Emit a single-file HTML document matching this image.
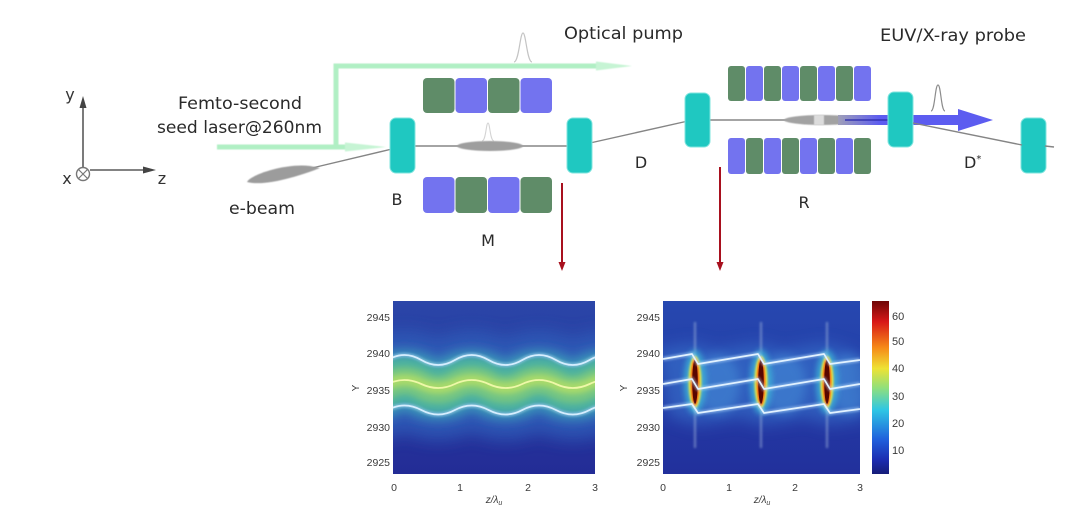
<!DOCTYPE html>
<html><head><meta charset="utf-8"><style>
html,body{margin:0;padding:0;background:#fff;}
svg{display:block;}
</style></head><body>
<svg width="1080" height="520" viewBox="0 0 1080 520" xmlns="http://www.w3.org/2000/svg" font-family="'DejaVu Sans','Liberation Sans',sans-serif">
<defs>
<filter id="b05" filterUnits="userSpaceOnUse" x="0" y="0" width="1080" height="520"><feGaussianBlur stdDeviation="0.6"/></filter>
<filter id="b1" filterUnits="userSpaceOnUse" x="0" y="0" width="1080" height="520"><feGaussianBlur stdDeviation="1.1"/></filter>
<filter id="b2" filterUnits="userSpaceOnUse" x="0" y="0" width="1080" height="520"><feGaussianBlur stdDeviation="2"/></filter>
<filter id="b3" filterUnits="userSpaceOnUse" x="0" y="0" width="1080" height="520"><feGaussianBlur stdDeviation="3"/></filter>
<filter id="b5" filterUnits="userSpaceOnUse" x="0" y="0" width="1080" height="520"><feGaussianBlur stdDeviation="5"/></filter>
<filter id="b8" filterUnits="userSpaceOnUse" x="0" y="0" width="1080" height="520"><feGaussianBlur stdDeviation="8"/></filter>
<clipPath id="cl"><rect x="393" y="301" width="202" height="173"/></clipPath>
<clipPath id="cr"><rect x="663" y="301" width="197" height="173"/></clipPath>
<linearGradient id="bgL" x1="0" y1="0" x2="0" y2="1">
<stop offset="0" stop-color="#2b46a8"/><stop offset="1" stop-color="#232c96"/></linearGradient>
<linearGradient id="bgR" x1="0" y1="0" x2="0" y2="1">
<stop offset="0" stop-color="#2648b0"/><stop offset="1" stop-color="#22309c"/></linearGradient>
<linearGradient id="jet" x1="0" y1="0" x2="0" y2="1">
<stop offset="0" stop-color="#6e0606"/>
<stop offset="0.12" stop-color="#d81818"/>
<stop offset="0.27" stop-color="#f68a18"/>
<stop offset="0.39" stop-color="#eee234"/>
<stop offset="0.5" stop-color="#92e07a"/>
<stop offset="0.63" stop-color="#2ec6e4"/>
<stop offset="0.8" stop-color="#2060dc"/>
<stop offset="0.92" stop-color="#1c2cb0"/>
<stop offset="1" stop-color="#161c78"/>
</linearGradient>
<linearGradient id="shaft" gradientUnits="userSpaceOnUse" x1="835" y1="0" x2="880" y2="0">
<stop offset="0" stop-color="#a4a4b4"/><stop offset="1" stop-color="#5c5cf0"/></linearGradient>
</defs>

<rect width="1080" height="520" fill="#fff"/>

<!-- coordinate axes -->
<g stroke="#5a5a5a" stroke-width="1.6" fill="none">
<line x1="83" y1="168" x2="83" y2="104"/>
<line x1="90" y1="170" x2="146" y2="170"/>
</g>
<polygon points="79.5,108 83,96 86.5,108" fill="#444"/>
<polygon points="143,166.5 156,170 143,173.5" fill="#444"/>
<circle cx="83" cy="174" r="6.5" fill="#fff" stroke="#777" stroke-width="1.4"/>
<path d="M78.5,169.5 L87.5,178.5 M87.5,169.5 L78.5,178.5" stroke="#777" stroke-width="1.2"/>
<text x="70" y="100" font-size="16" fill="#333" text-anchor="middle">y</text>
<text x="67" y="184" font-size="16" fill="#333" text-anchor="middle">x</text>
<text x="162" y="184" font-size="16" fill="#333" text-anchor="middle">z</text>

<!-- labels top -->
<g fill="#2a2a2a" font-size="17">
<text x="178" y="109" textLength="124" lengthAdjust="spacingAndGlyphs">Femto-second</text>
<text x="157" y="133" textLength="165" lengthAdjust="spacingAndGlyphs">seed laser@260nm</text>
<text x="564" y="39" textLength="119" lengthAdjust="spacingAndGlyphs">Optical pump</text>
<text x="880" y="41" textLength="146" lengthAdjust="spacingAndGlyphs">EUV/X-ray probe</text>
<text x="229" y="214" textLength="66" lengthAdjust="spacingAndGlyphs">e-beam</text>
</g>
<g fill="#2a2a2a" font-size="16" text-anchor="middle">
<text x="397" y="205">B</text>
<text x="488" y="246">M</text>
<text x="641" y="168">D</text>
<text x="804" y="208">R</text>
</g>
<text x="964" y="168" font-size="16" fill="#2a2a2a">D<tspan font-size="10" dy="-6">*</tspan></text>

<!-- green optical beam -->
<g filter="url(#b05)">
<path d="M217,147 H350 M336,147 V66 H602" stroke="#b0efc4" stroke-width="5" fill="none"/>
<polygon points="345,142.5 386,147 345,151.5" fill="#c6f4d4"/>
<polygon points="596,61.5 632,66 596,70.5" fill="#c6f4d4"/>
</g>

<!-- pulses -->
<path d="M514,62 C519,62 520,33 523,33 C526,33 527,62 532,62" stroke="#c4c4c4" stroke-width="1.2" fill="none"/>
<path d="M482,141 C486,141 486,123 488,123 C490,123 490,141 494,141" stroke="#d4d4d4" stroke-width="1.1" fill="none"/>
<path d="M931,111 C935,111 935,85 938,85 C941,85 941,111 945,111" stroke="#8c8c8c" stroke-width="1.2" fill="none"/>

<!-- beam lines -->
<g stroke="#858585" stroke-width="1.4" fill="none">
<line x1="312" y1="168" x2="392" y2="149"/>
<line x1="410" y1="146" x2="570" y2="146"/>
<line x1="590" y1="143" x2="688" y2="121"/>
<line x1="708" y1="120" x2="890" y2="120"/>
</g>

<!-- e-beams -->
<path d="M247,182 C250,175 285,163 310,166 L320,168 C302,175 266,187 247,182 Z" fill="#9c9c9c" filter="url(#b05)"/>
<ellipse cx="490" cy="146" rx="33" ry="5" fill="#9e9e9e" filter="url(#b05)"/>
<ellipse cx="822" cy="120" rx="38" ry="5" fill="#a2a2a2" filter="url(#b05)"/>
<rect x="814" y="115" width="10" height="10" fill="#dcdcdc" filter="url(#b05)"/>

<!-- blue probe arrow -->
<rect x="838" y="115" width="124" height="10" fill="url(#shaft)"/>
<line x1="845" y1="120" x2="905" y2="120" stroke="#3030b0" stroke-width="2" opacity="0.7"/>
<polygon points="958,109 993,120 958,131" fill="#5c5cf0"/>

<!-- magnets M -->
<g>
<rect x="423" y="78" width="31.5" height="35" rx="4" fill="#5f8c68"/>
<rect x="455.5" y="78" width="31.5" height="35" rx="4" fill="#7373ef"/>
<rect x="488" y="78" width="31.5" height="35" rx="4" fill="#5f8c68"/>
<rect x="520.5" y="78" width="31.5" height="35" rx="4" fill="#7373ef"/>
<rect x="423" y="177" width="31.5" height="36" rx="4" fill="#7373ef"/>
<rect x="455.5" y="177" width="31.5" height="36" rx="4" fill="#5f8c68"/>
<rect x="488" y="177" width="31.5" height="36" rx="4" fill="#7373ef"/>
<rect x="520.5" y="177" width="31.5" height="36" rx="4" fill="#5f8c68"/>
</g>
<!-- magnets R -->
<g>
<rect x="728" y="66" width="17" height="35" rx="3" fill="#5f8c68"/>
<rect x="746" y="66" width="17" height="35" rx="3" fill="#7373ef"/>
<rect x="764" y="66" width="17" height="35" rx="3" fill="#5f8c68"/>
<rect x="782" y="66" width="17" height="35" rx="3" fill="#7373ef"/>
<rect x="800" y="66" width="17" height="35" rx="3" fill="#5f8c68"/>
<rect x="818" y="66" width="17" height="35" rx="3" fill="#7373ef"/>
<rect x="836" y="66" width="17" height="35" rx="3" fill="#5f8c68"/>
<rect x="854" y="66" width="17" height="35" rx="3" fill="#7373ef"/>
<rect x="728" y="138" width="17" height="36" rx="3" fill="#7373ef"/>
<rect x="746" y="138" width="17" height="36" rx="3" fill="#5f8c68"/>
<rect x="764" y="138" width="17" height="36" rx="3" fill="#7373ef"/>
<rect x="782" y="138" width="17" height="36" rx="3" fill="#5f8c68"/>
<rect x="800" y="138" width="17" height="36" rx="3" fill="#7373ef"/>
<rect x="818" y="138" width="17" height="36" rx="3" fill="#5f8c68"/>
<rect x="836" y="138" width="17" height="36" rx="3" fill="#7373ef"/>
<rect x="854" y="138" width="17" height="36" rx="3" fill="#5f8c68"/>
</g>

<!-- chicane blocks -->
<g fill="#1fc8c1" stroke="#7fe4de" stroke-width="1">
<rect x="390" y="118" width="25" height="55" rx="6"/>
<rect x="567" y="118" width="25" height="55" rx="6"/>
<rect x="685" y="93" width="25" height="54" rx="6"/>
<rect x="888" y="92" width="25" height="55" rx="6"/>
<rect x="1021" y="118" width="25" height="55" rx="6"/>
</g>
<g stroke="#858585" stroke-width="1.4" fill="none">
<line x1="913" y1="123" x2="1022" y2="145"/>
<line x1="1045" y1="146" x2="1054" y2="147"/>
</g>

<!-- red arrows -->
<g stroke="#a8101e" stroke-width="2">
<line x1="562" y1="183" x2="562" y2="263"/>
<line x1="720" y1="167" x2="720" y2="263"/>
</g>
<polygon points="558.5,262 565.5,262 562,271" fill="#a8101e"/>
<polygon points="716.5,262 723.5,262 720,271" fill="#a8101e"/>

<!-- LEFT HEATMAP -->
<g clip-path="url(#cl)">
<rect x="393" y="301" width="202" height="173" fill="url(#bgL)"/>
<g fill="none">
<path d="M353.9,385 Q370.8,394 387.6,385 T421.3,385 T454.9,385 T488.6,385 T522.3,385 T555.9,385 T589.6,385 T623.3,385 T657,385" stroke="#2e5cb8" stroke-width="100" filter="url(#b8)" opacity="0.85"/>
<path d="M353.9,385 Q370.8,394 387.6,385 T421.3,385 T454.9,385 T488.6,385 T522.3,385 T555.9,385 T589.6,385 T623.3,385 T657,385" stroke="#3a90ba" stroke-width="62" filter="url(#b5)"/>
<path d="M353.9,385 Q370.8,394 387.6,385 T421.3,385 T454.9,385 T488.6,385 T522.3,385 T555.9,385 T589.6,385 T623.3,385 T657,385" stroke="#4bb0a0" stroke-width="46" filter="url(#b3)"/>
<path d="M353.9,385 Q370.8,394 387.6,385 T421.3,385 T454.9,385 T488.6,385 T522.3,385 T555.9,385 T589.6,385 T623.3,385 T657,385" stroke="#72c484" stroke-width="28" filter="url(#b3)"/>
<path d="M353.9,384 Q370.8,392 387.6,384 T421.3,384 T454.9,384 T488.6,384 T522.3,384 T555.9,384 T589.6,384 T623.3,384 T657,384" stroke="#a8da6a" stroke-width="12" filter="url(#b3)"/>
<path d="M353.9,360 Q370.8,370 387.6,360 T421.3,360 T454.9,360 T488.6,360 T522.3,360 T555.9,360 T589.6,360 T623.3,360 T657,360" stroke="#b8dcff" stroke-width="4.5" opacity="0.45" filter="url(#b1)"/>
<path d="M353.9,410 Q370.8,419 387.6,410 T421.3,410 T454.9,410 T488.6,410 T522.3,410 T555.9,410 T589.6,410 T623.3,410 T657,410" stroke="#b8dcff" stroke-width="4.5" opacity="0.45" filter="url(#b1)"/>
<path d="M353.9,360 Q370.8,370 387.6,360 T421.3,360 T454.9,360 T488.6,360 T522.3,360 T555.9,360 T589.6,360 T623.3,360 T657,360" stroke="#d6eeff" stroke-width="1.8"/>
<path d="M353.9,384 Q370.8,392 387.6,384 T421.3,384 T454.9,384 T488.6,384 T522.3,384 T555.9,384 T589.6,384 T623.3,384 T657,384" stroke="#eef8a8" stroke-width="1.8"/>
<path d="M353.9,410 Q370.8,419 387.6,410 T421.3,410 T454.9,410 T488.6,410 T522.3,410 T555.9,410 T589.6,410 T623.3,410 T657,410" stroke="#d6eeff" stroke-width="1.8"/>
</g>
</g>

<!-- RIGHT HEATMAP -->
<g clip-path="url(#cr)">
<rect x="663" y="301" width="197" height="173" fill="url(#bgR)"/>
<g fill="none" stroke-linejoin="round">
<path d="M663,384 L692,379 L698,389 L758,379 L764,389 L824,379 L830,389 L860,384" stroke="#3a7ad2" stroke-width="70" opacity="0.55" filter="url(#b8)"/>
</g>
<g>
<ellipse cx="718" cy="384" rx="22" ry="30" fill="#4a96dc" opacity="0.45" filter="url(#b5)"/>
<ellipse cx="784" cy="384" rx="22" ry="30" fill="#4a96dc" opacity="0.45" filter="url(#b5)"/>
<ellipse cx="850" cy="384" rx="22" ry="30" fill="#4a96dc" opacity="0.45" filter="url(#b5)"/>
</g>
<!-- spikes -->
<g>
<line x1="695" y1="322" x2="695" y2="448" stroke="#a8bce0" stroke-width="2.2" opacity="0.5" filter="url(#b1)"/>
<line x1="761" y1="322" x2="761" y2="448" stroke="#a8bce0" stroke-width="2.2" opacity="0.5" filter="url(#b1)"/>
<line x1="827" y1="322" x2="827" y2="448" stroke="#a8bce0" stroke-width="2.2" opacity="0.5" filter="url(#b1)"/>
<ellipse cx="695" cy="382" rx="11" ry="32" fill="#3cb8d8" opacity="0.8" filter="url(#b3)"/>
<ellipse cx="761" cy="382" rx="11" ry="32" fill="#3cb8d8" opacity="0.8" filter="url(#b3)"/>
<ellipse cx="827" cy="382" rx="11" ry="32" fill="#3cb8d8" opacity="0.8" filter="url(#b3)"/>
<ellipse cx="695" cy="382" rx="6.5" ry="26" fill="#ece23e" filter="url(#b1)"/>
<ellipse cx="761" cy="382" rx="6.5" ry="26" fill="#ece23e" filter="url(#b1)"/>
<ellipse cx="827" cy="382" rx="6.5" ry="26" fill="#ece23e" filter="url(#b1)"/>
<ellipse cx="695" cy="382" rx="4.5" ry="24" fill="#f07818" filter="url(#b05)"/>
<ellipse cx="761" cy="382" rx="4.5" ry="24" fill="#f07818" filter="url(#b05)"/>
<ellipse cx="827" cy="382" rx="4.5" ry="24" fill="#f07818" filter="url(#b05)"/>
<ellipse cx="695" cy="382" rx="2.8" ry="22" fill="#580600"/>
<ellipse cx="761" cy="382" rx="2.8" ry="22" fill="#580600"/>
<ellipse cx="827" cy="382" rx="2.8" ry="22" fill="#580600"/>
</g>
<g fill="none" stroke-linejoin="round">
<g stroke="#c0e0ff" stroke-width="4.5" opacity="0.45" filter="url(#b1)">
<path d="M663,359 L692,354 L698,364 L758,354 L764,364 L824,354 L830,364 L860,360"/>
<path d="M663,384 L692,379 L698,389 L758,379 L764,389 L824,379 L830,389 L860,384"/>
<path d="M663,408 L692,404 L698,413 L758,404 L764,413 L824,404 L830,413 L860,409"/>
</g>
<g stroke="#e2f2ff" stroke-width="1.7">
<path d="M663,359 L692,354 L698,364 L758,354 L764,364 L824,354 L830,364 L860,360"/>
<path d="M663,384 L692,379 L698,389 L758,379 L764,389 L824,379 L830,389 L860,384"/>
<path d="M663,408 L692,404 L698,413 L758,404 L764,413 L824,404 L830,413 L860,409"/>
</g>
</g>
</g>

<!-- colorbar -->
<rect x="872" y="301" width="17" height="173" fill="url(#jet)"/>

<!-- axes text -->
<g font-family="'Liberation Sans',sans-serif" font-size="10.5" fill="#3a3a3a">
<g text-anchor="end">
<text x="390" y="321">2945</text>
<text x="390" y="357">2940</text>
<text x="390" y="394">2935</text>
<text x="390" y="431">2930</text>
<text x="390" y="466">2925</text>
<text x="660" y="321">2945</text>
<text x="660" y="357">2940</text>
<text x="660" y="394">2935</text>
<text x="660" y="431">2930</text>
<text x="660" y="466">2925</text>
</g>
<g text-anchor="middle">
<text x="394" y="491">0</text>
<text x="460" y="491">1</text>
<text x="528" y="491">2</text>
<text x="595" y="491">3</text>
<text x="663" y="491">0</text>
<text x="729" y="491">1</text>
<text x="795" y="491">2</text>
<text x="860" y="491">3</text>
<text x="494" y="503" font-style="italic" font-size="10">z/λ<tspan font-size="7" dy="2">u</tspan></text>
<text x="762" y="503" font-style="italic" font-size="10">z/λ<tspan font-size="7" dy="2">u</tspan></text>
<text x="0" y="0" font-size="10" transform="translate(359,388) rotate(-90)">Y</text>
<text x="0" y="0" font-size="10" transform="translate(627,388) rotate(-90)">Y</text>
</g>
<g font-size="11">
<text x="892" y="320">60</text>
<text x="892" y="345">50</text>
<text x="892" y="372">40</text>
<text x="892" y="400">30</text>
<text x="892" y="427">20</text>
<text x="892" y="454">10</text>
</g>
</g>
</svg>
</body></html>
